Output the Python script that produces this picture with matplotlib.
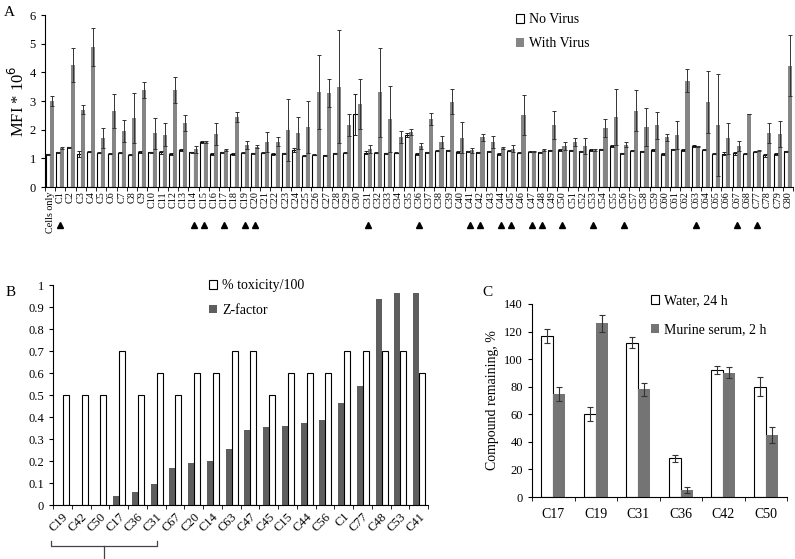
import matplotlib
matplotlib.use("Agg")
import matplotlib.pyplot as plt
from matplotlib.patches import Patch
from matplotlib.transforms import blended_transform_factory
import numpy as np

plt.rcParams['font.family'] = ['Liberation Serif', 'DejaVu Serif']
plt.rcParams['font.size'] = 9

# ---- panel A data ----
compounds_a = ['Cells only'] + ['C%d' % i for i in range(1, 69)] + ['C77', 'C78', 'C79', 'C80']
no_virus = [1.14, 1.21, 1.38, 1.15, 1.23, 1.19, 1.16, 1.19, 1.13, 1.22,
            1.21, 1.21, 1.15, 1.28, 1.21, 1.57, 1.15, 1.21, 1.15, 1.20,
            1.17, 1.20, 1.15, 1.17, 1.29, 1.09, 1.12, 1.10, 1.17, 1.20,
            2.53, 1.20, 1.20, 1.17, 1.20, 1.80, 1.15, 1.21, 1.26, 1.28,
            1.22, 1.24, 1.21, 1.24, 1.16, 1.26, 1.20, 1.23, 1.21, 1.28,
            1.29, 1.28, 1.24, 1.29, 1.31, 1.43, 1.17, 1.27, 1.24, 1.30,
            1.15, 1.31, 1.29, 1.44, 1.30, 1.16, 1.16, 1.17, 1.16, 1.23,
            1.10, 1.15, 1.24]
no_virus_err = [0.02, 0.02, 0.02, 0.10, 0.02, 0.02, 0.02, 0.02, 0.02, 0.02,
                0.02, 0.06, 0.02, 0.04, 0.02, 0.05, 0.02, 0.02, 0.02, 0.02,
                0.02, 0.02, 0.02, 0.03, 0.06, 0.02, 0.02, 0.02, 0.02, 0.02,
                0.73, 0.04, 0.02, 0.03, 0.02, 0.07, 0.02, 0.02, 0.02, 0.02,
                0.02, 0.02, 0.02, 0.02, 0.04, 0.02, 0.02, 0.02, 0.02, 0.02,
                0.02, 0.02, 0.02, 0.02, 0.02, 0.03, 0.02, 0.02, 0.02, 0.04,
                0.05, 0.02, 0.02, 0.03, 0.02, 0.02, 0.05, 0.05, 0.02, 0.02,
                0.04, 0.03, 0.02]
with_virus = [3.01, 1.35, 4.26, 2.69, 4.87, 1.71, 2.66, 1.95, 2.41, 3.38,
              1.87, 1.83, 3.38, 2.23, 1.31, 1.57, 1.85, 1.29, 2.44, 1.47,
              1.41, 1.56, 1.58, 1.99, 1.88, 2.10, 3.30, 3.28, 3.50, 2.16,
              2.90, 1.31, 3.30, 2.38, 1.74, 1.93, 1.43, 2.37, 1.57, 2.97,
              1.72, 1.28, 1.73, 1.58, 1.35, 1.34, 2.51, 1.24, 1.30, 2.16,
              1.43, 1.57, 1.43, 1.29, 2.06, 2.44, 1.47, 2.66, 2.08, 2.16,
              1.73, 1.81, 3.71, 1.41, 2.97, 2.17, 1.70, 1.43, 2.56, 1.27,
              1.87, 1.85, 4.23]
with_virus_err = [0.18, 0.03, 0.60, 0.16, 0.66, 0.34, 0.60, 0.37, 0.88, 0.28,
                  0.53, 0.39, 0.44, 0.28, 0.13, 0.03, 0.37, 0.05, 0.16, 0.13,
                  0.06, 0.35, 0.15, 1.09, 0.55, 0.90, 1.29, 0.48, 1.98, 0.37,
                  0.86, 0.14, 1.54, 1.15, 0.20, 0.10, 0.12, 0.20, 0.20, 0.44,
                  0.54, 0.08, 0.12, 0.21, 0.03, 0.11, 0.71, 0.03, 0.03, 0.49,
                  0.13, 0.14, 0.28, 0.03, 0.31, 0.97, 0.09, 0.71, 0.66, 0.47,
                  0.11, 0.49, 0.40, 0.03, 1.09, 1.78, 0.54, 0.17, 0.00, 0.02,
                  0.35, 0.44, 1.07]

# ---- panel B data ----
compounds_b = ['C19', 'C42', 'C50', 'C17', 'C36', 'C31', 'C67', 'C20', 'C14', 'C63',
               'C47', 'C45', 'C15', 'C44', 'C56', 'C1', 'C77', 'C48', 'C53', 'C41']
toxicity = [0.5, 0.5, 0.5, 0.7, 0.5, 0.6, 0.5, 0.6, 0.6, 0.7,
            0.7, 0.5, 0.6, 0.6, 0.6, 0.7, 0.7, 0.7, 0.7, 0.6]
z_factor = [0.0, 0.0, 0.0, 0.041, 0.059, 0.097, 0.167, 0.192, 0.198, 0.255,
            0.339, 0.353, 0.361, 0.374, 0.388, 0.465, 0.542, 0.936, 0.962, 0.962]
bracketed = ['C19', 'C42', 'C50', 'C17', 'C36', 'C31']

# ---- panel C data ----
compounds_c = ['C17', 'C19', 'C31', 'C36', 'C42', 'C50']
water = [117, 60, 112, 28, 92, 80]
water_err = [5, 5, 4, 2.5, 3, 7]
serum = [75, 126, 78, 5, 90, 45]
serum_err = [5, 6, 5, 2, 4, 6]

W, H = 795, 559
fig = plt.figure(figsize=(W / 100, H / 100), dpi=100)

def frac(l, t, r, b):
    return [l / W, 1 - b / H, (r - l) / W, (b - t) / H]

def style(ax):
    ax.spines['top'].set_visible(False)
    ax.spines['right'].set_visible(False)
    ax.tick_params(direction='out', length=3, width=0.8)

# ================= A =================
axA = fig.add_axes(frac(45, 15, 793, 187))
style(axA)
x = np.arange(len(compounds_a))
w = 0.4
axA.bar(x - w / 2, no_virus, w, color='white', edgecolor='black', linewidth=0.8,
        yerr=no_virus_err, error_kw=dict(ecolor='#222222', elinewidth=0.7, capsize=1.5, capthick=0.7))
axA.bar(x + w / 2, with_virus, w, color='#858585', edgecolor='none',
        yerr=with_virus_err, error_kw=dict(ecolor='#333333', elinewidth=0.7, capsize=1.5, capthick=0.7))
axA.set_xlim(-0.5, len(compounds_a) - 0.5)
axA.set_ylim(0, 6)
axA.set_yticks(range(7))
axA.set_xticks(x)
axA.set_xticklabels(compounds_a, rotation=90, fontsize=7.3)
axA.set_xticks(np.arange(len(compounds_a) + 1) - 0.5, minor=True)
axA.tick_params(axis='x', which='major', length=0, pad=3)
axA.tick_params(axis='x', which='minor', length=3, direction='out')
fig.text(18 / W, 1 - 101 / H, 'MFI * 10$^6$', rotation=90, ha='center', va='center', fontsize=12)
fig.text(4 / W, 1 - 12 / H, 'A', fontsize=11, ha='left', va='center')

# triangles under compounds selected for panel B
tri_x = [compounds_a.index(c) for c in compounds_b]
trA = blended_transform_factory(axA.transData, axA.transAxes)
axA.plot(tri_x, [-0.222] * len(tri_x), linestyle='none', marker='^', color='black',
         markersize=5, transform=trA, clip_on=False)

legA = fig.legend(handles=[Patch(facecolor='white', edgecolor='black', linewidth=0.8, label='No Virus'),
                           Patch(facecolor='#858585', edgecolor='none', label='With Virus')],
                  loc='upper left', bbox_to_anchor=(516 / W, 1 - 13 / H), frameon=False,
                  fontsize=10, handlelength=0.6, handleheight=0.6, handletextpad=0.35,
                  labelspacing=0.8, borderpad=0, borderaxespad=0)

# ================= B =================
axB = fig.add_axes(frac(53, 285, 428, 505))
style(axB)
xb = np.arange(len(compounds_b))
wb = 0.32
axB.bar(xb - wb / 2 + 0.02, z_factor, wb, color='#5e5e5e', edgecolor='none')
axB.bar(xb + wb / 2 + 0.02, toxicity, wb, color='white', edgecolor='black', linewidth=0.8)
axB.set_xlim(-0.5, len(compounds_b) - 0.5)
axB.set_ylim(0, 1)
axB.set_yticks(np.arange(0, 1.01, 0.1))
axB.set_yticklabels(['%g' % round(v, 1) for v in np.arange(0, 1.01, 0.1)], fontsize=9)
axB.set_xticks(xb)
axB.set_xticklabels(compounds_b, rotation=45, ha='right', rotation_mode='anchor', fontsize=9)
axB.set_xticks(np.arange(len(compounds_b) + 1) - 0.5, minor=True)
axB.tick_params(axis='x', which='major', length=0, pad=4)
axB.tick_params(axis='x', which='minor', length=3, direction='out')
fig.text(6 / W, 1 - 293 / H, 'B', fontsize=11, ha='left', va='center')

i0 = compounds_b.index(bracketed[0])
i1 = compounds_b.index(bracketed[-1])
trB = blended_transform_factory(axB.transData, axB.transAxes)
bl, br = i0 - 0.6, i1 + 0.05
axB.plot([bl, bl, br, br], [-0.165, -0.186, -0.186, -0.165], color='#444444', lw=0.9,
         transform=trB, clip_on=False)
bc = (bl + br) / 2
axB.plot([bc, bc], [-0.186, -0.26], color='#444444', lw=0.9, transform=trB, clip_on=False)

legB = fig.legend(handles=[Patch(facecolor='white', edgecolor='black', linewidth=0.8, label='% toxicity/100'),
                           Patch(facecolor='#5e5e5e', edgecolor='none', label='Z-factor')],
                  loc='upper left', bbox_to_anchor=(209 / W, 1 - 279 / H), frameon=False,
                  fontsize=10, handlelength=0.6, handleheight=0.6, handletextpad=0.35,
                  labelspacing=0.85, borderpad=0, borderaxespad=0)

# ================= C =================
axC = fig.add_axes(frac(532, 304, 787, 497))
style(axC)
xc = np.arange(len(compounds_c))
wc = 0.28
axC.bar(xc - wc / 2, water, wc, color='white', edgecolor='black', linewidth=0.8,
        yerr=water_err, error_kw=dict(ecolor='#333333', elinewidth=0.8, capsize=2.5, capthick=0.8))
axC.bar(xc + wc / 2, serum, wc, color='#747474', edgecolor='none',
        yerr=serum_err, error_kw=dict(ecolor='#333333', elinewidth=0.8, capsize=2.5, capthick=0.8))
axC.set_xlim(-0.5, len(compounds_c) - 0.5)
axC.set_ylim(0, 140)
axC.set_yticks(range(0, 141, 20))
axC.set_xticks(xc)
axC.set_xticklabels(compounds_c, fontsize=10)
axC.set_xticks(np.arange(len(compounds_c) + 1) - 0.5, minor=True)
axC.tick_params(axis='x', which='major', length=0, pad=8)
axC.tick_params(axis='x', which='minor', length=3, direction='out')
axC.set_ylabel('Compound remaining, %', fontsize=10, labelpad=4)
fig.text(482 / W, 1 - 293 / H, 'C', fontsize=11, ha='left', va='center')

legC = fig.legend(handles=[Patch(facecolor='white', edgecolor='black', linewidth=0.8, label='Water, 24 h'),
                           Patch(facecolor='#747474', edgecolor='none', label='Murine serum, 2 h')],
                  loc='upper left', bbox_to_anchor=(651 / W, 1 - 294 / H), frameon=False,
                  fontsize=10, handlelength=0.6, handleheight=0.6, handletextpad=0.35,
                  labelspacing=1.2, borderpad=0, borderaxespad=0)

fig.savefig('out.png', dpi=100)
